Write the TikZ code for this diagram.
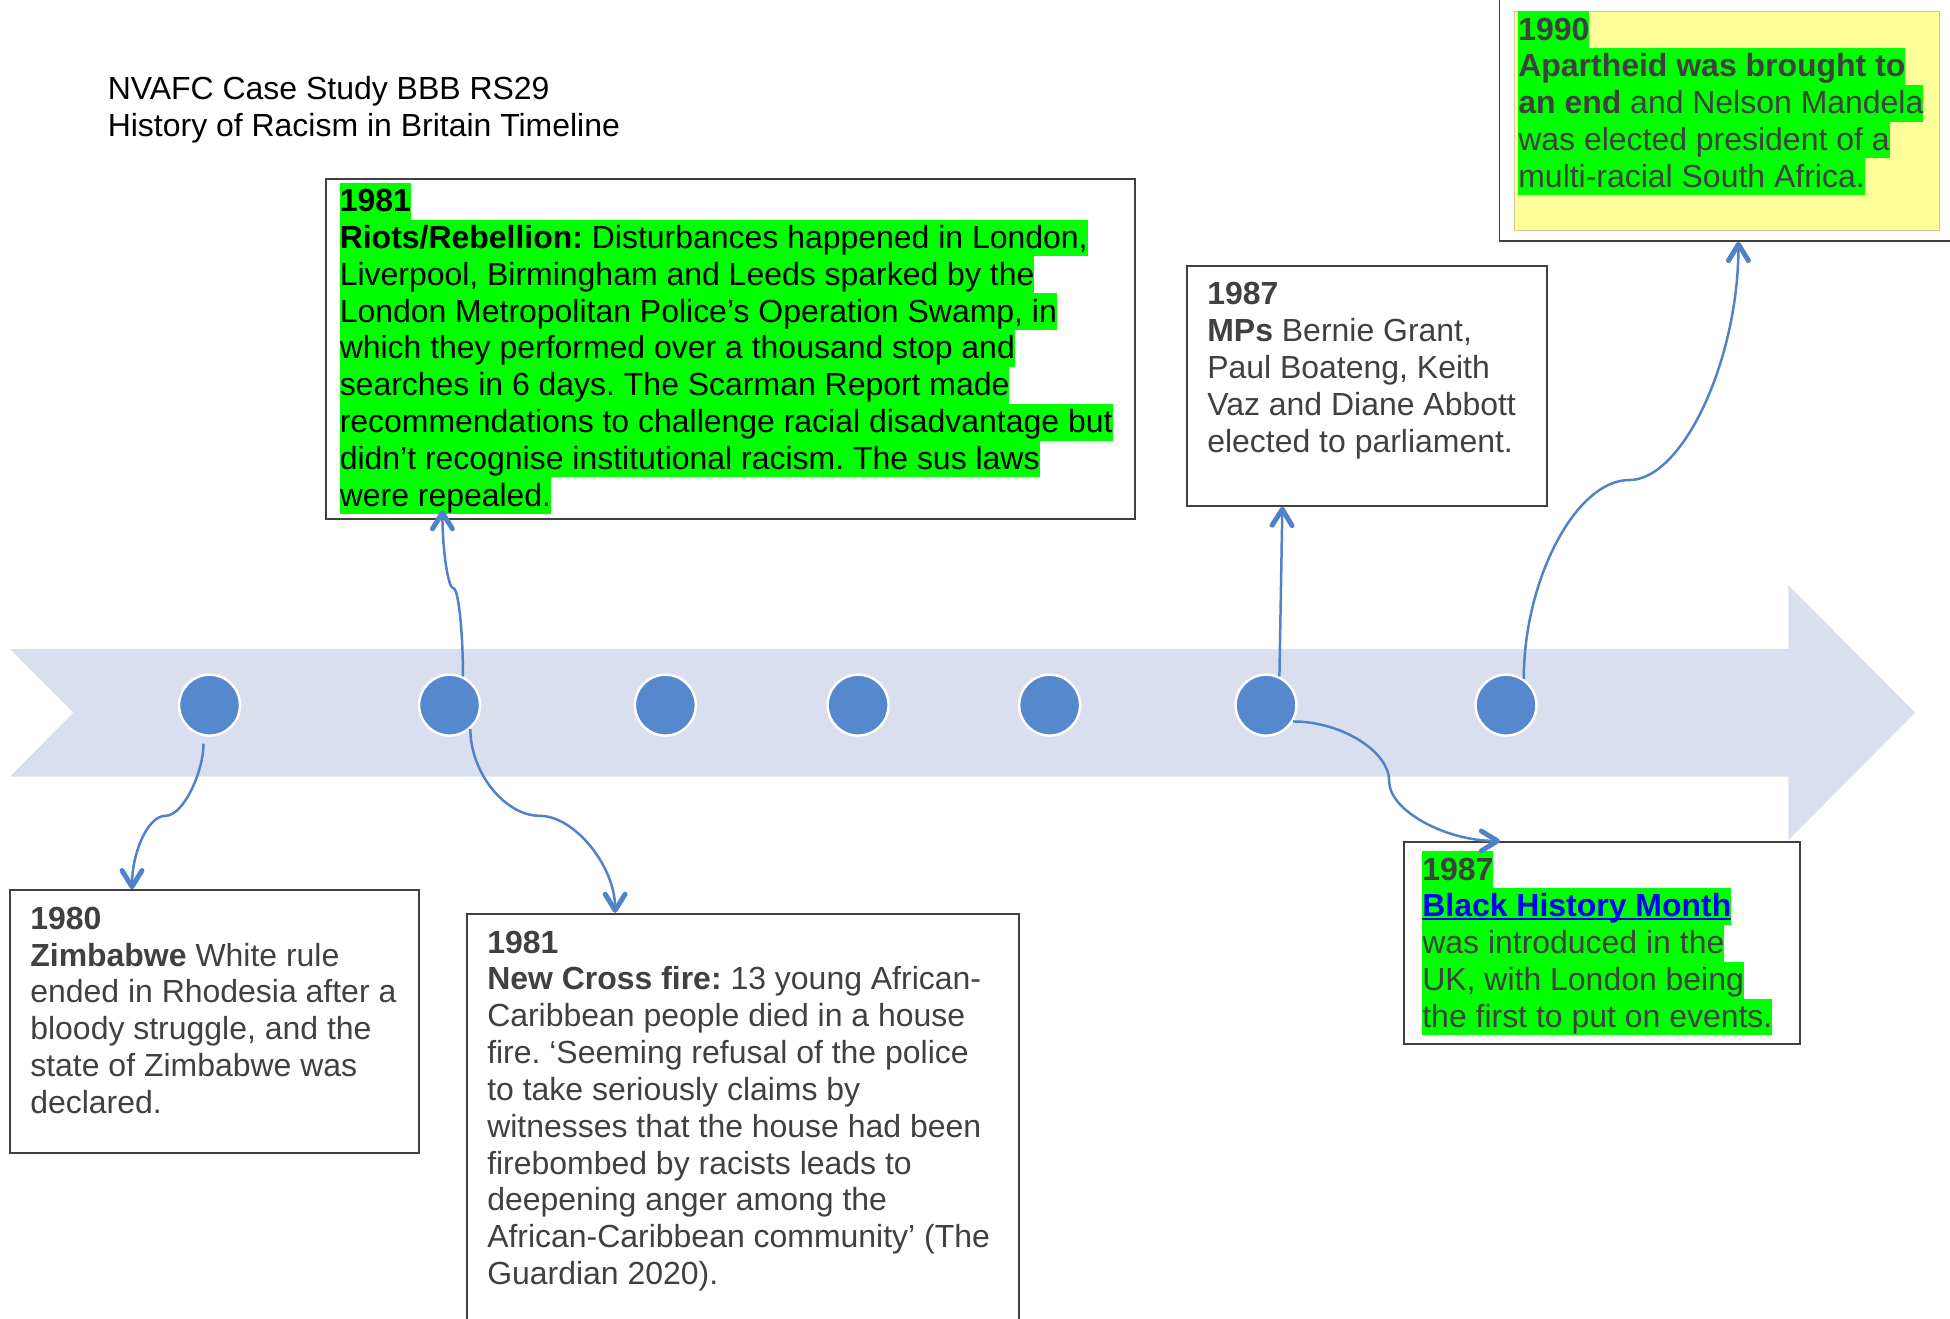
\documentclass[tikz,border=0pt]{standalone}
\usepackage{fontspec}
\setmainfont{Liberation Sans}
\usetikzlibrary{arrows.meta}
\frenchspacing
\definecolor{bandblue}{RGB}{217,223,239}
\definecolor{dotblue}{RGB}{86,136,206}
\definecolor{linkblue}{RGB}{80,130,202}
\definecolor{hlgreen}{RGB}{0,255,0}
\definecolor{textgray}{RGB}{64,64,64}
\definecolor{boxgray}{RGB}{64,64,64}
\definecolor{notepaper}{RGB}{255,255,153}
\definecolor{notetan}{RGB}{205,200,150}
\definecolor{weblinkblue}{RGB}{0,0,255}
\newcommand{\rowstrut}{\rule[-6.4pt]{0pt}{29.6pt}}
\newcommand{\hlrow}[1]{{\setlength{\fboxsep}{0pt}\colorbox{hlgreen}{\rowstrut#1}}}
\newcommand{\plainrow}[1]{\rowstrut#1}
\newcommand{\weblink}[1]{\setbox0\hbox{#1}\rlap{\rule[-2.6pt]{\wd0}{1.6pt}}\box0}
\begin{document}
\begin{tikzpicture}[x=1pt,y=-1pt,
	dot/.style={circle, fill=dotblue, draw=white, line width=2pt, minimum size=49pt, inner sep=0pt},
	box/.style={draw=boxgray, line width=1.5pt, anchor=north west, inner sep=0pt},
	txt/.style={anchor=north west, inner sep=0pt, align=left, text=textgray, font=\fontsize{25.7pt}{29.6pt}\selectfont},
	link/.style={draw=linkblue, line width=2pt, -{Straight Barb[length=13pt,width=16pt,line width=0pt 2,round]}}]
	\useasboundingbox (0,0) rectangle (1568,1060.6);

	% timeline band
	\fill[bandblue] (8,522) -- (1438,522) -- (1438,470.5) -- (1540,573) -- (1438,675.5) -- (1438,624.5) -- (8,624.5) -- (59,573) -- cycle;
	\foreach \x [count=\i] in {168.5,361.5,535,690,844,1018,1211}{
	\node[dot] (c\i) at (\x,567) {};
	}

	\node[txt, text=black] (title) at (86.5,57) {\plainrow{NVAFC Case Study BBB RS29}\\\plainrow{History of Racism in Britain Timeline}};

	% boxes
	\node[box, minimum width=650.6pt, minimum height=273.2pt] (riots) at (261.4,143.5) {};
	\node[box, minimum width=289pt, minimum height=193pt] (mps) at (954,213) {};
	\node[box, minimum width=395pt, minimum height=203pt] (apart) at (1205,-10) {};
	\node[anchor=north west, inner sep=0pt, fill=notepaper, draw=notetan, line width=0.8pt, minimum width=342pt, minimum height=176pt] (notepad) at (1217,9) {};
	\node[box, minimum width=329pt, minimum height=211.7pt] (zim) at (7.5,715) {};
	\node[box, minimum width=443.8pt, minimum height=341pt] (newcross) at (374.9,734) {};
	\node[box, minimum width=319pt, minimum height=162.6pt] (bhm) at (1127.9,676.2) {};

	\node[txt, text=black] (riotstxt) at (273,146.8) {\hlrow{\textbf{1981}}\\
	\hlrow{\textbf{Riots/Rebellion:} Disturbances happened in London,}\\
	\hlrow{Liverpool, Birmingham and Leeds sparked by the}\\
	\hlrow{London Metropolitan Police’s Operation Swamp, in}\\
	\hlrow{which they performed over a thousand stop and}\\
	\hlrow{searches in 6 days. The Scarman Report made}\\
	\hlrow{recommendations to challenge racial disadvantage but}\\
	\hlrow{didn’t recognise institutional racism. The sus laws}\\
	\hlrow{were repealed.}};
	\node[txt] (mpstxt) at (970.6,221.8) {\plainrow{\textbf{1987}}\\
	\plainrow{\textbf{MPs} Bernie Grant,}\\
	\plainrow{Paul Boateng, Keith}\\
	\plainrow{Vaz and Diane Abbott}\\
	\plainrow{elected to parliament.}};
	\node[txt] (aparttxt) at (1220.7,8.8) {\hlrow{\textbf{1990}}\\
	\hlrow{\textbf{Apartheid was brought to}}\\
	\hlrow{\textbf{an end} and Nelson Mandela}\\
	\hlrow{was elected president of a}\\
	\hlrow{multi-racial South Africa.}};
	\node[txt] (zimtxt) at (24.2,723.8) {\plainrow{\textbf{1980}}\\
	\plainrow{\textbf{Zimbabwe} White rule}\\
	\plainrow{ended in Rhodesia after a}\\
	\plainrow{bloody struggle, and the}\\
	\plainrow{state of Zimbabwe was}\\
	\plainrow{declared.}};
	\node[txt] (newcrosstxt) at (391.6,743) {\plainrow{\textbf{1981}}\\
	\plainrow{\textbf{New Cross fire:} 13 young African-}\\
	\plainrow{Caribbean people died in a house}\\
	\plainrow{fire. ‘Seeming refusal of the police}\\
	\plainrow{to take seriously claims by}\\
	\plainrow{witnesses that the house had been}\\
	\plainrow{firebombed by racists leads to}\\
	\plainrow{deepening anger among the}\\
	\plainrow{African-Caribbean community’ (The}\\
	\plainrow{Guardian 2020).}};
	\node[txt] (bhmtxt) at (1143.5,684.3) {\hlrow{\textbf{1987}}\\
	\hlrow{{\color{weblinkblue}\textbf{\weblink{Black History Month}}}}\\
	\hlrow{was introduced in the}\\
	\hlrow{UK, with London being}\\
	\hlrow{the first to put on events.}};

	% connectors
	\coordinate (m1) at (133,656);
	\coordinate (m2) at (364.5,473);
	\coordinate (m3) at (434,656);
	\coordinate (m5) at (1117,628);
	\coordinate (m6) at (1310,386);
	\draw[link, shorten <=6pt] (c1.-101) .. controls +(0,28.5) and +(14.5,0) .. (m1) .. controls +(-14.5,0) and +(0,-28.7) .. (zim.122.7);
	\draw[link] (c2.65) .. controls +(0,-35) and +(4.25,0) .. (m2) .. controls +(-4.25,0) and +(0,32) .. ([xshift=-231.7pt,yshift=8pt]riots.south);
	\draw[link] (c2.-49) .. controls +(0,35) and +(-28,0) .. (m3) .. controls +(28,0) and +(0,-37.5) .. (newcross.121.9);
	\draw[link] (c6.65) -- (mps.235.4);
	\draw[link] (c6.-31) .. controls +(38.5,0) and +(0,-24) .. (m5) .. controls +(0,24) and +(-43.5,0) .. (bhm.135.8);
	\draw[link] (c7.56) .. controls +(0,-79.5) and +(-42.9,0) .. (m6) .. controls +(42.9,0) and +(0,95.5) .. (apart.267.2);
\end{tikzpicture}
\end{document}
